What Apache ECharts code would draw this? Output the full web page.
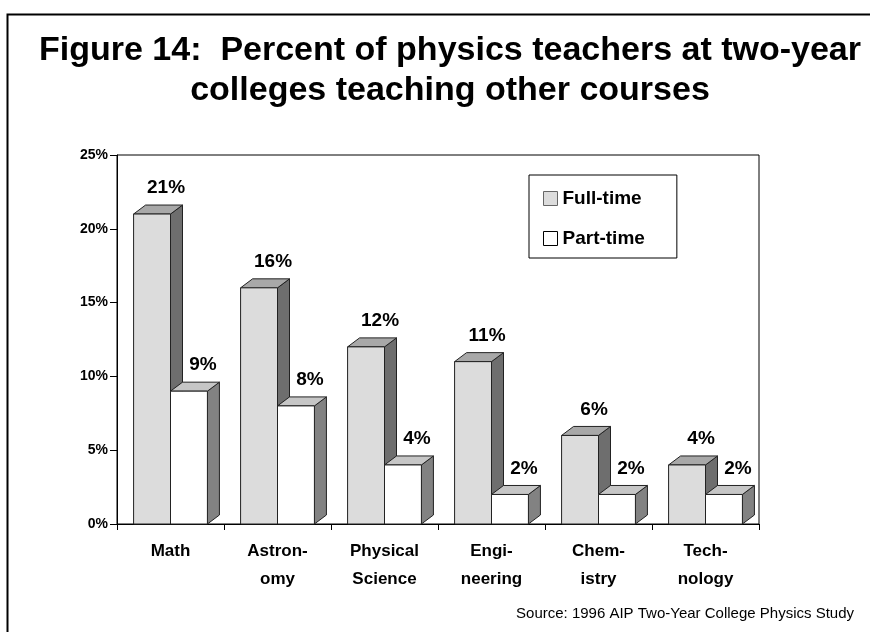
<!DOCTYPE html>
<html>
<head>
<meta charset="utf-8">
<script src="https://cdn.jsdelivr.net/npm/echarts@6/dist/echarts.min.js"></script>
<style>
  html, body { margin: 0; padding: 0; background: #fff; }
  #chart { width: 870px; height: 632px; }
</style>
</head>
<body>
<div id="chart"></div>
<script>
var categories = ['Math', 'Astron-\nomy', 'Physical\nScience', 'Engi-\nneering', 'Chem-\nistry', 'Tech-\nnology'];
var fullTime = [21, 16, 12, 11, 6, 4];
var partTime = [9, 8, 4, 2, 2, 2];
var yTicks = [0, 5, 10, 15, 20, 25];

var dom = document.getElementById('chart');
var myChart = echarts.init(dom, null, { renderer: 'canvas' });

// 3d looking bar: front face, top face, side face + label
function bar3d(side, colors) {
  return function (params, api) {
    var idx = api.value(0);
    var val = api.value(1);
    var top = api.coord([idx, val]);
    var base = api.coord([idx, 0]);
    var band = api.size([1, 0])[0];
    var w = band * 0.345;
    var dx = 12, dy = 9;
    var x0 = side === 0 ? top[0] - w : top[0];
    var x1 = x0 + w;
    var yt = top[1], yb = base[1];
    var stroke = { stroke: '#222', lineWidth: 1 };
    return {
      type: 'group',
      children: [
        {
          type: 'polygon',
          shape: { points: [[x1, yt], [x1 + dx, yt - dy], [x1 + dx, yb - dy], [x1, yb]] },
          style: Object.assign({ fill: colors.side }, stroke)
        },
        {
          type: 'polygon',
          shape: { points: [[x0, yt], [x0 + dx, yt - dy], [x1 + dx, yt - dy], [x1, yt]] },
          style: Object.assign({ fill: colors.top }, stroke)
        },
        {
          type: 'rect',
          shape: { x: x0, y: yt, width: w, height: yb - yt },
          style: Object.assign({ fill: colors.front }, stroke)
        },
        {
          type: 'text',
          style: {
            text: val + '%',
            x: (x0 + x1) / 2 + dx + 2,
            y: yt - dy - 17,
            align: 'center',
            verticalAlign: 'middle',
            font: 'bold 19px "Liberation Sans", Arial, sans-serif',
            fill: '#000'
          }
        }
      ]
    };
  };
}

var fullColors = { front: '#dcdcdc', top: '#a8a8a8', side: '#6e6e6e' };
var partColors = { front: '#ffffff', top: '#c6c6c6', side: '#828282' };

var option = {
  animation: false,
  backgroundColor: '#fff',
  textStyle: { fontFamily: '"Liberation Sans", Arial, sans-serif', color: '#000' },
  title: {
    text: 'Figure 14:  Percent of physics teachers at two-year\ncolleges teaching other courses',
    left: 445,
    top: 26,
    textAlign: 'center',
    textStyle: {
      fontFamily: '"Liberation Sans", Arial, sans-serif',
      fontWeight: 'bold',
      fontSize: 34,
      lineHeight: 40,
      color: '#000'
    }
  },
  legend: {
    orient: 'vertical',
    left: 529,
    top: 175,
    padding: [14, 32, 10, 14],
    itemGap: 21,
    itemWidth: 14,
    itemHeight: 14,
    borderColor: '#000',
    borderWidth: 1,
    icon: 'rect',
    textStyle: { fontSize: 19, fontWeight: 'bold', color: '#000', lineHeight: 18 },
    data: [
      { name: 'Full-time', itemStyle: { color: fullColors.front, borderColor: '#666', borderWidth: 1 } },
      { name: 'Part-time', itemStyle: { color: '#fff', borderColor: '#000', borderWidth: 1 } }
    ]
  },
  grid: {
    left: 117,
    right: 111,
    top: 155,
    bottom: 108,
    show: true,
    borderColor: '#000',
    borderWidth: 1
  },
  xAxis: {
    type: 'category',
    data: categories,
    axisLine: { lineStyle: { color: '#000', width: 1 } },
    axisTick: { show: true, length: 6, lineStyle: { color: '#000' } },
    axisLabel: {
      interval: 0,
      margin: 13,
      fontSize: 17,
      fontWeight: 'bold',
      lineHeight: 28,
      color: '#000'
    },
    splitLine: { show: false }
  },
  yAxis: {
    type: 'value',
    min: yTicks[0],
    max: yTicks[yTicks.length - 1],
    interval: 5,
    axisLine: { show: true, lineStyle: { color: '#000', width: 1 } },
    axisTick: { show: true, length: 7, lineStyle: { color: '#000' } },
    axisLabel: { formatter: '{value}%', margin: 9, fontSize: 14, fontWeight: 'bold', color: '#000' },
    splitLine: { show: false }
  },
  graphic: [
    {
      type: 'rect',
      left: 5,
      top: 12,
      shape: { width: 900, height: 700 },
      style: { fill: 'none', stroke: '#000', lineWidth: 2 },
      silent: true
    },
    {
      type: 'text',
      right: 16,
      top: 606,
      style: {
        text: 'Source: 1996 AIP Two-Year College Physics Study',
        font: '15px "Liberation Sans", Arial, sans-serif',
        fill: '#000'
      }
    }
  ],
  series: [
    {
      name: 'Full-time',
      type: 'custom',
      renderItem: bar3d(0, fullColors),
      itemStyle: { color: fullColors.front },
      encode: { x: 0, y: 1 },
      data: fullTime.map(function (v, i) { return [i, v]; }),
      z: 2
    },
    {
      name: 'Part-time',
      type: 'custom',
      renderItem: bar3d(1, partColors),
      itemStyle: { color: '#fff' },
      encode: { x: 0, y: 1 },
      data: partTime.map(function (v, i) { return [i, v]; }),
      z: 3
    }
  ]
};

myChart.setOption(option);
window.addEventListener('resize', myChart.resize);
</script>
</body>
</html>
